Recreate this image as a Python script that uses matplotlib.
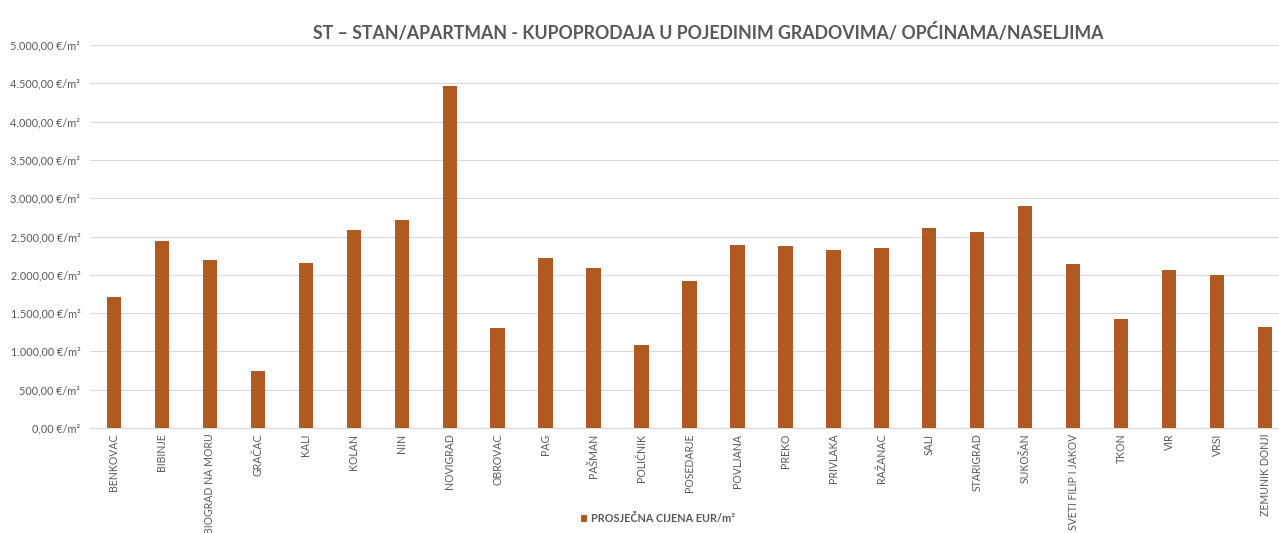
import matplotlib
matplotlib.use("Agg")
import matplotlib.pyplot as plt
from matplotlib.ticker import FuncFormatter, MultipleLocator

categories = ["BENKOVAC", "BIBINJE", "BIOGRAD NA MORU", "GRAČAC", "KALI", "KOLAN", "NIN",
              "NOVIGRAD", "OBROVAC", "PAG", "PAŠMAN", "POLIČNIK", "POSEDARJE", "POVLJANA",
              "PREKO", "PRIVLAKA", "RAŽANAC", "SALI", "STARIGRAD", "SUKOŠAN",
              "SVETI FILIP I JAKOV", "TKON", "VIR", "VRSI", "ZEMUNIK DONJI"]
prices = [1710, 2441, 2193, 744, 2154, 2585, 2715, 4465, 1305, 2219, 2089, 1084, 1919, 2389,
          2376, 2324, 2350, 2611, 2559, 2898, 2141, 1423, 2063, 1997, 1318]
series_name = "PROSJEČNA CIJENA EUR/m²"
title = "ST – STAN/APARTMAN - KUPOPRODAJA U POJEDINIM GRADOVIMA/ OPĆINAMA/NASELJIMA"

plt.rcParams['font.family'] = ['Lato', 'DejaVu Sans']
W, H = 1279, 533
fig = plt.figure(figsize=(W / 100, H / 100), dpi=100)
ax = fig.add_axes([90 / W, 1 - 428 / H, (1289 - 90) / W, (428 - 45) / H])

bar_color = '#B05A23'
text_color = '#595959'
x = range(len(categories))
bars = ax.bar(x, prices, width=0.3, color=bar_color, label=series_name, zorder=3)

ax.set_xlim(-0.5, len(categories) - 0.5)
ax.set_ylim(0, 5000)
ax.yaxis.set_major_locator(MultipleLocator(500))

def fmt(v, pos):
    s = f"{v:,.2f}".replace(",", "X").replace(".", ",").replace("X", ".")
    return f"{s} €/m²"
ax.yaxis.set_major_formatter(FuncFormatter(fmt))

ax.grid(axis='y', color='#D9D9D9', linewidth=0.8, zorder=0)
for s in ['top', 'right', 'left']:
    ax.spines[s].set_visible(False)
ax.spines['bottom'].set_color('#D9D9D9')
ax.tick_params(axis='y', length=0, labelsize=7.8, labelcolor=text_color, pad=7)
ax.tick_params(axis='x', length=0, labelsize=7.6, labelcolor=text_color, pad=4)
ax.set_xticks(list(x))
ax.set_xticklabels(categories, rotation=90)

fig.text(708 / W, 1 - 33 / H, title, ha='center', va='center', fontsize=12.8,
         fontweight='bold', color=text_color)

leg = fig.legend(handles=[bars], labels=[series_name], loc='center',
                 bbox_to_anchor=(658 / W, 1 - 519 / H), frameon=False,
                 fontsize=7.8, handlelength=0.6, handleheight=0.6, handletextpad=0.4)
for t in leg.get_texts():
    t.set_color(text_color)
    t.set_fontweight('bold')

fig.savefig("out.png", dpi=100)
